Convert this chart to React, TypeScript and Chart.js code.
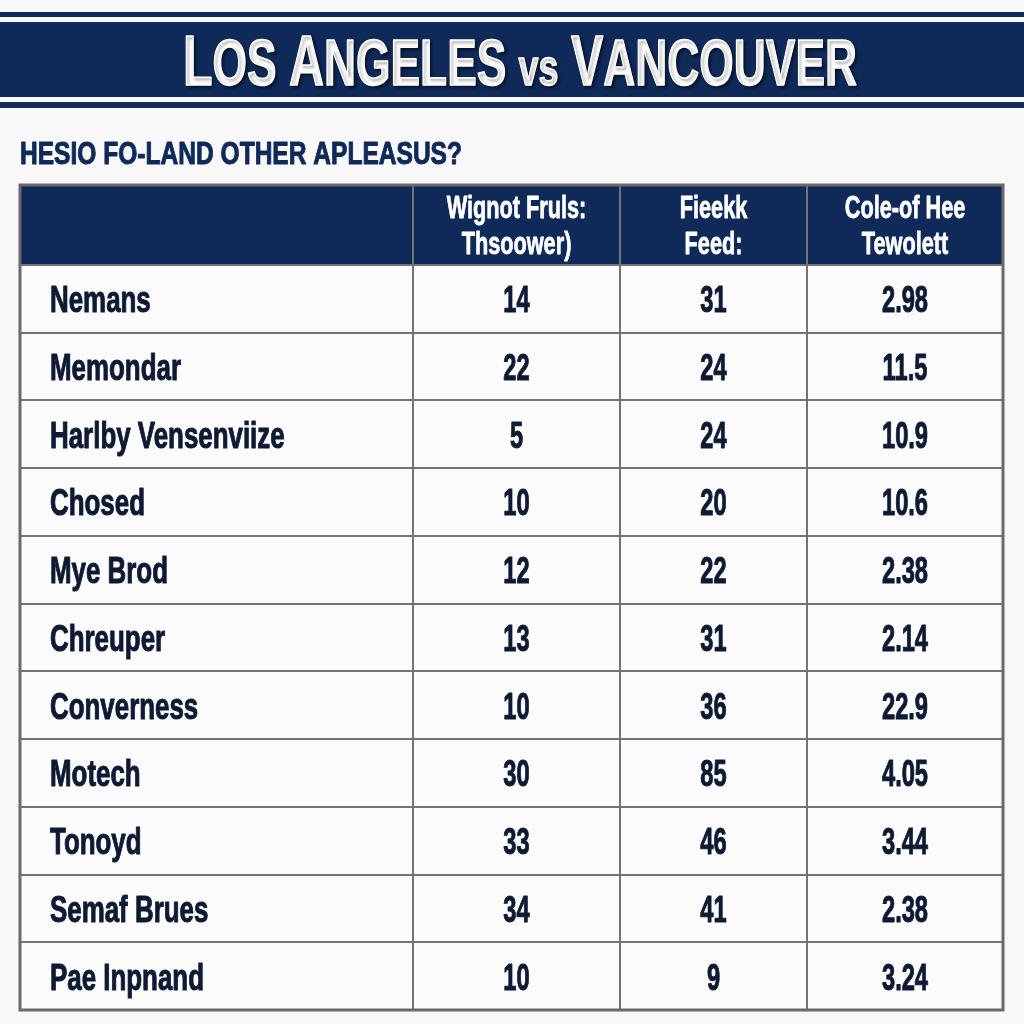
import React, { useEffect, useRef } from "react";
import { Chart, registerables } from "chart.js";

Chart.register(...registerables);

// ---------- data ----------
const TITLE_PARTS = [
  { text: "L", size: "big" },
  { text: "OS ", size: "small" },
  { text: "A", size: "big" },
  { text: "NGELES ", size: "small" },
  { text: "vs", size: "tiny" },
  { text: " ", size: "small" },
  { text: "V", size: "big" },
  { text: "ANCOUVER", size: "small" },
];
const SUBTITLE = "HESIO FO-LAND OTHER APLEASUS?";
const HEADERS = [
  ["", ""],
  ["Wignot Fruls:", "Thsoower)"],
  ["Fieekk", "Feed:"],
  ["Cole-of Hee", "Tewolett"],
];
const ROW_LABELS = [
  "Nemans",
  "Memondar",
  "Harlby Vensenviize",
  "Chosed",
  "Mye Brod",
  "Chreuper",
  "Converness",
  "Motech",
  "Tonoyd",
  "Semaf Brues",
  "Pae Inpnand",
];
const COL_WIGNOT = ["14", "22", "5", "10", "12", "13", "10", "30", "33", "34", "10"];
const COL_FIEEKK = ["31", "24", "24", "20", "22", "31", "36", "85", "46", "41", "9"];
const COL_COLE = ["2.98", "11.5", "10.9", "10.6", "2.38", "2.14", "22.9", "4.05", "3.44", "2.38", "3.24"];

// ---------- layout / style ----------
const COL_EDGES = [0, 393, 600, 787, 983];
const LABEL_INSET = 30;
const HEADER_UNITS = 1.18;
const NAVY = "#0f2a58";
const INK = "#0e1a33";
const GRID = "#737373";
const FONT = "'Liberation Sans', Arial, sans-serif";

function drawText(
  ctx: CanvasRenderingContext2D,
  text: string,
  x: number,
  y: number,
  px: number,
  sx: number,
  align: CanvasTextAlign,
  color: string,
  stroke = 0
) {
  ctx.save();
  ctx.translate(x, y);
  ctx.scale(sx, 1);
  ctx.font = `bold ${px}px ${FONT}`;
  ctx.fillStyle = color;
  ctx.textAlign = align;
  ctx.textBaseline = "alphabetic";
  ctx.fillText(text, 0, 0);
  if (stroke > 0) {
    ctx.strokeStyle = color;
    ctx.lineWidth = stroke;
    ctx.lineJoin = "round";
    ctx.strokeText(text, 0, 0);
  }
  ctx.restore();
}

const tablePlugin = {
  id: "tablePlugin",
  beforeDraw(chart: any) {
    const { ctx, width, chartArea } = chart;
    ctx.save();
    ctx.fillStyle = "#f8f8f9";
    ctx.fillRect(0, 0, width, chart.height);
    // banner
    ctx.fillStyle = NAVY;
    ctx.fillRect(0, 12, width, 5);
    ctx.fillRect(0, 22, width, 75);
    ctx.fillRect(0, 102, width, 6);
    // title
    const sizes: Record<string, number> = { big: 70, small: 64, tiny: 52 };
    let total = 0;
    TITLE_PARTS.forEach((p) => {
      ctx.font = `bold ${sizes[p.size]}px ${FONT}`;
      total += ctx.measureText(p.text).width;
    });
    const targetW = 674;
    const sx = targetW / total;
    let x = 183;
    ctx.shadowColor = "rgba(0,0,0,0.5)";
    ctx.shadowOffsetX = 2;
    ctx.shadowOffsetY = 2;
    ctx.shadowBlur = 3;
    TITLE_PARTS.forEach((p) => {
      ctx.font = `bold ${sizes[p.size]}px ${FONT}`;
      const w = ctx.measureText(p.text).width;
      drawText(ctx, p.text, x, 85, sizes[p.size], sx, "left", "#ffffff", 1.5);
      x += w * sx;
    });
    ctx.shadowColor = "transparent";
    // subtitle
    ctx.font = `bold 31px ${FONT}`;
    const sw = ctx.measureText(SUBTITLE).width;
    drawText(ctx, SUBTITLE, 20, 164, 31, 442 / sw, "left", NAVY, 1);
    // table background
    ctx.fillStyle = "#fbfbfb";
    ctx.fillRect(chartArea.left, chartArea.top, chartArea.right - chartArea.left, chartArea.bottom - chartArea.top);
    const ys = chart.scales.y;
    const hb = ys.getPixelForValue(0);
    ctx.fillStyle = NAVY;
    ctx.fillRect(chartArea.left, chartArea.top, chartArea.right - chartArea.left, hb - chartArea.top);
    ctx.restore();
  },
  afterDatasetsDraw(chart: any) {
    const { ctx, chartArea } = chart;
    const xs = chart.scales.x;
    const ys = chart.scales.y;
    ctx.save();
    // header text
    const hc = ys.getPixelForValue(-HEADER_UNITS / 2);
    HEADERS.forEach((lines, c) => {
      const cx = xs.getPixelForValue((COL_EDGES[c] + COL_EDGES[c + 1]) / 2);
      drawText(ctx, lines[0], cx, hc - 7, 31, 0.7, "center", "#ffffff", 0.8);
      drawText(ctx, lines[1], cx, hc + 29, 31, 0.7, "center", "#ffffff", 0.8);
    });
    // cell text
    chart.data.datasets.forEach((ds: any, d: number) => {
      const meta = chart.getDatasetMeta(d);
      meta.data.forEach((el: any, i: number) => {
        const t = ds.texts[i];
        if (d === 0) drawText(ctx, t, el.x, el.y + 13.5, 37, 0.7, "left", INK, 1);
        else drawText(ctx, t, el.x, el.y + 13.5, 37, 0.64, "center", INK, 1);
      });
    });
    // outer border
    ctx.strokeStyle = "#6a6a6a";
    ctx.lineWidth = 3;
    ctx.strokeRect(chartArea.left, chartArea.top, chartArea.right - chartArea.left, chartArea.bottom - chartArea.top);
    ctx.restore();
  },
};

export default function App() {
  const ref = useRef<HTMLCanvasElement | null>(null);
  useEffect(() => {
    if (!ref.current) return;
    const colCenter = (c: number) => (COL_EDGES[c] + COL_EDGES[c + 1]) / 2;
    const columns = [ROW_LABELS, COL_WIGNOT, COL_FIEEKK, COL_COLE];
    const datasets = columns.map((col, c) => ({
      label: HEADERS[c].join(" "),
      texts: col,
      data: col.map((_, i) => ({ x: c === 0 ? COL_EDGES[0] + LABEL_INSET : colCenter(c), y: i + 0.5 })),
      pointRadius: 0,
      pointHoverRadius: 0,
      showLine: false,
    }));
    const chart = new Chart(ref.current, {
      type: "scatter",
      data: { datasets: datasets as any },
      options: {
        animation: false,
        responsive: false,
        devicePixelRatio: 1,
        layout: { padding: { left: 20, right: 21, top: 185, bottom: 14 } },
        plugins: { legend: { display: false }, tooltip: { enabled: false }, title: { display: false } },
        events: [],
        scales: {
          x: {
            type: "linear",
            min: COL_EDGES[0],
            max: COL_EDGES[COL_EDGES.length - 1],
            afterBuildTicks: (s: any) => {
              s.ticks = COL_EDGES.map((v) => ({ value: v }));
            },
            ticks: { display: false },
            grid: { color: GRID, lineWidth: 2, drawTicks: false },
            border: { display: false },
          },
          y: {
            type: "linear",
            reverse: true,
            min: -HEADER_UNITS,
            max: ROW_LABELS.length,
            afterBuildTicks: (s: any) => {
              s.ticks = [{ value: -HEADER_UNITS }, ...ROW_LABELS.map((_, i) => ({ value: i })), { value: ROW_LABELS.length }];
            },
            ticks: { display: false },
            grid: { color: GRID, lineWidth: 2, drawTicks: false },
            border: { display: false },
          },
        },
      },
      plugins: [tablePlugin],
    } as any);
    return () => chart.destroy();
  }, []);
  return (
    <div style={{ position: "absolute", left: 0, top: 0, width: 1024, height: 1024 }}>
      <canvas ref={ref} width={1024} height={1024} />
    </div>
  );
}
